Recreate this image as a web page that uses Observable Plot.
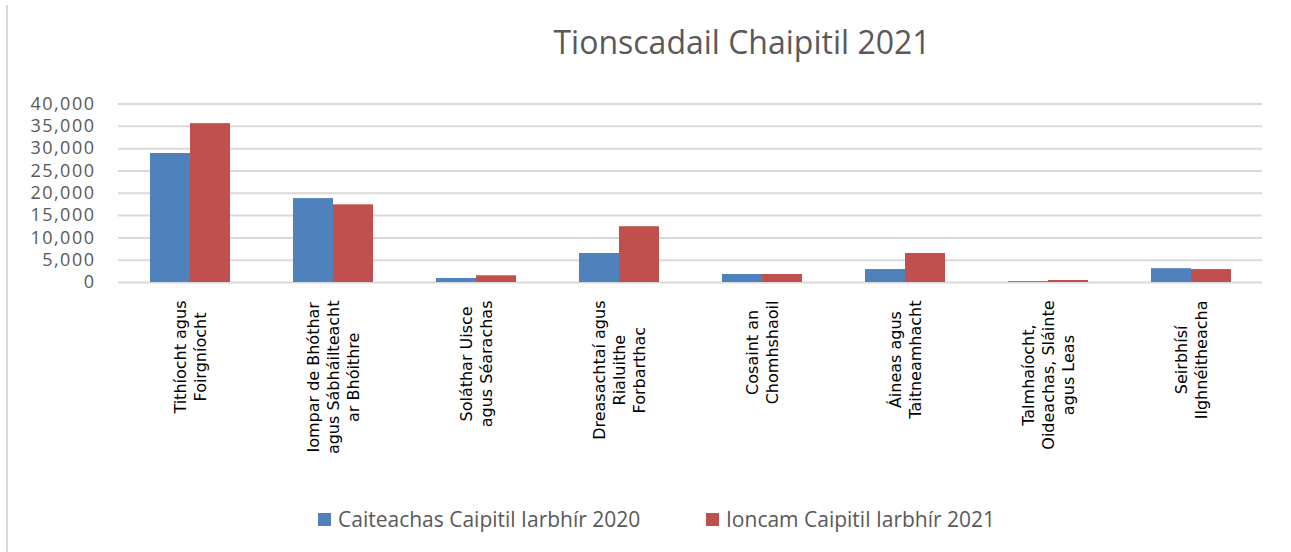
<!DOCTYPE html>
<html>
<head>
<meta charset="utf-8">
<script src="https://cdn.jsdelivr.net/npm/d3@7"></script>
<script src="https://cdn.jsdelivr.net/npm/@observablehq/plot@0.6"></script>
<style>
  html, body { margin: 0; padding: 0; background: #fff; }
  body { position: relative; width: 1291px; height: 552px; overflow: hidden; }
  #frame { position: absolute; left: 6px; top: 5px; width: 2px; height: 547px; background: #D9D9D9; }
  #title { position: absolute; left: 0; width: 1291px; top: 0; height: 90px; }
  #title span { position: absolute; left: 742px; transform: translateX(-50%); top: 26px; line-height: 32px;
    font-family: "Open Sans", sans-serif; font-size: 32px; color: #595959; white-space: nowrap; }
  #chart { position: absolute; left: 0; top: 90px; }
  #chart g[aria-label="y-axis tick label"] text { letter-spacing: 1.5px; }
  #legend { position: absolute; top: 508px; left: 0; width: 1291px; height: 22px;
    font-family: "Open Sans", sans-serif; font-size: 21px; line-height: 22px; color: #595959; }
  .item { position: absolute; top: 0; display: flex; align-items: center; height: 22px; white-space: nowrap; }
  .sw { width: 13px; height: 13px; margin-right: 7px; }
</style>
</head>
<body>
<div id="frame"></div>
<div id="title"><span></span></div>
<div id="chart"></div>
<div id="legend"></div>
<script>
const titleText = "Tionscadail Chaipitil 2021";
const categories = [
  "Tithíocht agus\nFoirgníocht",
  "Iompar de Bhóthar\nagus Sábháilteacht\nar Bhóithre",
  "Soláthar Uisce\nagus Séarachas",
  "Dreasachtaí agus\nRialuithe\nForbarthac",
  "Cosaint an\nChomhshaoil",
  "Áineas agus\nTaitneamhacht",
  "Talmhaíocht,\nOideachas, Sláinte\nagus Leas",
  "Seirbhísí\nIlghnéitheacha"
];
const seriesNames = ["Caiteachas Caipitil Iarbhír 2020", "Ioncam Caipitil Iarbhír 2021"];
const spend2020 = [28900, 18800, 900, 6500, 1800, 2900, 200, 3100];
const income2021 = [35600, 17400, 1500, 12500, 1800, 6500, 450, 2900];
const seriesColors = ["#4F81BD", "#C0504D"];
const yTicks = [0, 5000, 10000, 15000, 20000, 25000, 30000, 35000, 40000];

document.querySelector("#title span").textContent = titleText;

const data = categories.flatMap((c, i) => [
  {cat: c, series: seriesNames[0], value: spend2020[i]},
  {cat: c, series: seriesNames[1], value: income2021[i]}
]);

const fmt = d3.format(",");

const chart = Plot.plot({
  width: 1291,
  height: 410,
  marginTop: 13.5,
  marginBottom: 218,
  marginLeft: 115,
  marginRight: 26,
  style: {background: "transparent"},
  fx: {domain: categories, padding: 0, label: null},
  x: {domain: seriesNames, paddingInner: 0, paddingOuter: 0.75, axis: null},
  y: {domain: [0, 40000], label: null},
  color: {domain: seriesNames, range: seriesColors},
  marks: [
    Plot.gridY(yTicks, {stroke: "#D9D9D9", strokeOpacity: 1, strokeWidth: 2}),
    Plot.barY(data, {fx: "cat", x: "series", y: "value", fill: "series"}),
    Plot.axisY(yTicks, {tickSize: 0, tickPadding: 23, tickFormat: fmt, fontSize: 18,
      fill: "#595959", fontFamily: "Open Sans, sans-serif", label: null}),
    Plot.axisFx({anchor: "bottom", tickSize: 0, tickPadding: 18, tickRotate: -90,
      fontSize: 16, fontFamily: "DejaVu Sans, sans-serif", lineHeight: 1.25,
      fill: "#000", label: null})
  ]
});
document.getElementById("chart").appendChild(chart);

// Centre the lines of each rotated category label within its block (block anchored at the top)
chart.querySelectorAll('g[aria-label="fx-axis tick label"] text').forEach(t => {
  const spans = Array.from(t.querySelectorAll("tspan"));
  const parts = spans.length ? spans : [t];
  let maxLen = 0;
  parts.forEach(s => { maxLen = Math.max(maxLen, s.getComputedTextLength()); });
  t.setAttribute("text-anchor", "middle");
  parts.forEach(s => s.setAttribute("x", -maxLen / 2));
});

const legend = document.getElementById("legend");
const legendX = [318, 706];
seriesNames.forEach((name, i) => {
  const item = document.createElement("div");
  item.className = "item";
  item.style.left = legendX[i] + "px";
  const sw = document.createElement("div");
  sw.className = "sw";
  sw.style.background = seriesColors[i];
  const t = document.createElement("span");
  t.textContent = name;
  item.appendChild(sw);
  item.appendChild(t);
  legend.appendChild(item);
});
</script>
</body>
</html>
